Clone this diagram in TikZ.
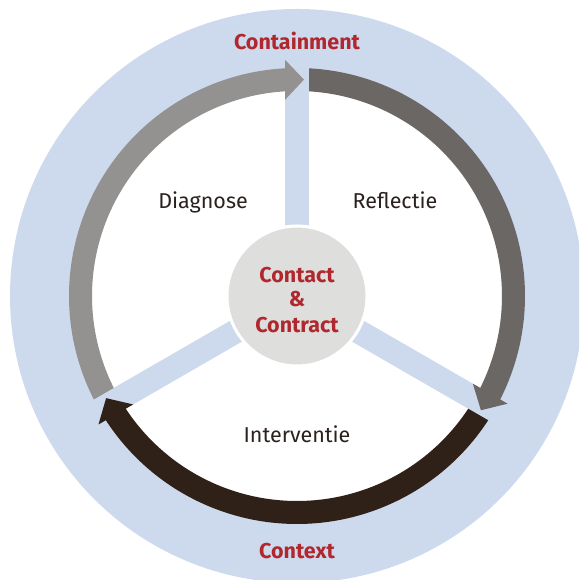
\documentclass[tikz,border=0pt]{standalone}
\usepackage{fontspec}
\setmainfont{Fira Sans}
\definecolor{ringblue}{HTML}{CDDAEE}
\definecolor{gdiag}{HTML}{939291}
\definecolor{grefl}{HTML}{6B6764}
\definecolor{ginterv}{HTML}{2F2118}
\definecolor{redlbl}{HTML}{B0272D}
\definecolor{darktxt}{HTML}{2B211E}
\definecolor{centergray}{HTML}{DEDEDD}
\tikzset{
  redlabel/.style={text=redlbl, font=\fontsize{21.5}{25}\selectfont\bfseries, anchor=base, inner sep=0pt},
  phaselabel/.style={text=darktxt, font=\fontsize{21.5}{25}\selectfont, anchor=base, inner sep=0pt},
  spokebar/.style={draw=ringblue, line width=24pt},
}
% arrow from spoke angle #1 to spoke angle #2 (clockwise)
\newcommand{\ringarrow}[3]{%
  \fill[#3]
    (#1-3.017:228) arc[start angle=#1-3.017, end angle=#2+3.017, radius=228]
    -- (#2+2.908:236.5) -- (#2-1.85:216.5) -- (#2+3.501:196.5)
    -- (#2+3.356:205) arc[start angle=#2+3.356, end angle=#1-3.356, radius=205]
    -- cycle;}
\begin{document}
\begin{tikzpicture}[x=1pt,y=1pt]
  \useasboundingbox (0,0) rectangle (579,580);
  \clip (0,0) rectangle (579,580);
  \coordinate (C) at (297,284);
  \fill[ringblue] (C) circle[radius=287];
  \begin{scope}[shift={(C)}]
    \fill[white] (0,0) circle[radius=206];
    \coordinate (s1) at (90:230);
    \coordinate (s2) at (-30:230);
    \coordinate (s3) at (210:230);
    \draw[spokebar] (C) -- (s1);
    \draw[spokebar] (C) -- (s2);
    \draw[spokebar] (C) -- (s3);
    \ringarrow{210}{90}{gdiag}
    \ringarrow{90}{-30}{grefl}
    \ringarrow{-30}{-150}{ginterv}
  \end{scope}
  \node[circle, fill=centergray, draw=white, line width=3pt, minimum size=140pt, inner sep=0pt] (cc) at (C) {};
  \node[redlabel] (l1) at (297,297.6) {Contact};
  \node[redlabel] (l2) at (297,273.6) {\&};
  \node[redlabel] (l3) at (297,247.6) {Contract};
  \node[redlabel] (cont) at (297,530.6) {Containment};
  \node[redlabel] (ctx) at (297,21.6) {Context};
  \node[phaselabel] (diag) at (203,371) {Diagnose};
  \node[phaselabel] (refl) at (395,371) {Reflectie};
  \node[phaselabel] (interv) at (297,137) {Interventie};
\end{tikzpicture}
\end{document}
